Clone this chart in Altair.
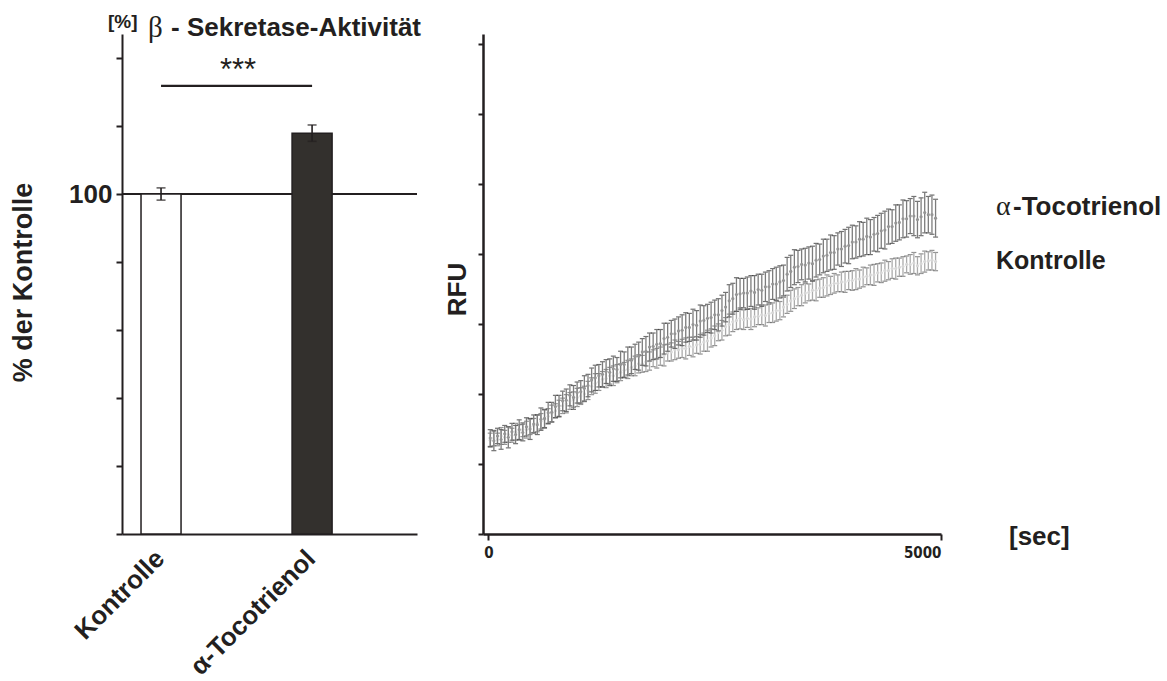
import altair as alt
import pandas as pd

SANS = "Liberation Sans"
SERIF = "Liberation Serif"
NARROW = "Liberation Sans Narrow, DejaVu Sans Condensed, Liberation Sans"
INK = "#231f20"

# ---------------- left panel: beta-secretase activity (% of control) ----------------
groups = ["Kontrolle", "α-Tocotrienol"]
activity = [100.0, 117.9]
activity_sem = [1.8, 2.4]
sig_level = 131.8
sig_label = "***"
pct_ticks = [0, 20, 40, 60, 80, 100, 120, 140]

# ---------------- right panel: fluorescence kinetics ----------------
series_names = ["α-Tocotrienol", "Kontrolle"]
time_ticks = [0, 5000]
rfu_ticks = [0, 1, 2, 3, 4, 5, 6, 7]

times = [
    20, 60, 100, 140, 180, 220, 260, 300, 340, 380,
    420, 460, 500, 540, 580, 620, 660, 700, 740, 780,
    820, 860, 900, 940, 980, 1020, 1060, 1100, 1140, 1180,
    1220, 1260, 1300, 1340, 1380, 1420, 1460, 1500, 1540, 1580,
    1620, 1660, 1700, 1740, 1780, 1820, 1860, 1900, 1940, 1980,
    2020, 2060, 2100, 2140, 2180, 2220, 2260, 2300, 2340, 2380,
    2420, 2460, 2500, 2540, 2580, 2620, 2660, 2700, 2740, 2780,
    2820, 2860, 2900, 2940, 2980, 3020, 3060, 3100, 3140, 3180,
    3220, 3260, 3300, 3340, 3380, 3420, 3460, 3500, 3540, 3580,
    3620, 3660, 3700, 3740, 3780, 3820, 3860, 3900, 3940, 3980,
    4020, 4060, 4100, 4140, 4180, 4220, 4260, 4300, 4340, 4380,
    4420, 4460, 4500, 4540, 4580, 4620, 4660, 4700, 4740, 4780,
    4820, 4860, 4900, 4940,
]

toco_rfu = [
    1.37, 1.33, 1.40, 1.35, 1.43, 1.38, 1.46, 1.42, 1.49, 1.45,
    1.53, 1.50, 1.57, 1.56, 1.64, 1.65, 1.73, 1.74, 1.82, 1.83,
    1.90, 1.91, 1.98, 1.95, 2.02, 2.03, 2.08, 2.12, 2.20, 2.23,
    2.26, 2.28, 2.32, 2.31, 2.36, 2.35, 2.42, 2.42, 2.47, 2.48,
    2.53, 2.54, 2.60, 2.61, 2.67, 2.68, 2.71, 2.72, 2.79, 2.81,
    2.86, 2.86, 2.90, 2.91, 2.95, 2.95, 2.99, 2.98, 3.04, 3.05,
    3.08, 3.09, 3.13, 3.13, 3.19, 3.24, 3.33, 3.36, 3.42, 3.43,
    3.44, 3.44, 3.47, 3.45, 3.49, 3.48, 3.53, 3.53, 3.57, 3.57,
    3.60, 3.62, 3.71, 3.75, 3.81, 3.82, 3.85, 3.84, 3.87, 3.86,
    3.91, 3.92, 3.97, 3.98, 4.02, 4.02, 4.07, 4.07, 4.11, 4.12,
    4.17, 4.17, 4.21, 4.21, 4.25, 4.24, 4.28, 4.29, 4.33, 4.34,
    4.39, 4.39, 4.44, 4.45, 4.50, 4.50, 4.54, 4.54, 4.49, 4.53,
    4.59, 4.56, 4.56, 4.51,
]

toco_err = [
    0.12, 0.14, 0.11, 0.14, 0.12, 0.15, 0.12, 0.13, 0.14, 0.12,
    0.13, 0.15, 0.13, 0.14, 0.16, 0.13, 0.15, 0.14, 0.16, 0.15,
    0.14, 0.16, 0.15, 0.17, 0.15, 0.16, 0.18, 0.16, 0.17, 0.18,
    0.16, 0.18, 0.17, 0.19, 0.18, 0.17, 0.19, 0.18, 0.20, 0.19,
    0.18, 0.20, 0.19, 0.21, 0.20, 0.19, 0.21, 0.20, 0.22, 0.20,
    0.19, 0.21, 0.20, 0.22, 0.21, 0.20, 0.22, 0.21, 0.23, 0.21,
    0.20, 0.22, 0.21, 0.23, 0.22, 0.21, 0.23, 0.22, 0.24, 0.22,
    0.21, 0.23, 0.22, 0.24, 0.22, 0.23, 0.21, 0.23, 0.22, 0.24,
    0.23, 0.22, 0.24, 0.23, 0.25, 0.23, 0.22, 0.24, 0.23, 0.25,
    0.24, 0.22, 0.24, 0.23, 0.25, 0.24, 0.23, 0.25, 0.24, 0.26,
    0.24, 0.23, 0.25, 0.24, 0.26, 0.25, 0.24, 0.26, 0.25, 0.27,
    0.25, 0.24, 0.26, 0.25, 0.27, 0.26, 0.25, 0.28, 0.26, 0.27,
    0.29, 0.26, 0.28, 0.27,
]

ctrl_rfu = [
    1.34, 1.37, 1.35, 1.40, 1.38, 1.42, 1.41, 1.46, 1.45, 1.49,
    1.49, 1.53, 1.55, 1.58, 1.61, 1.64, 1.68, 1.72, 1.76, 1.79,
    1.83, 1.86, 1.90, 1.92, 1.95, 1.97, 2.00, 2.05, 2.11, 2.15,
    2.17, 2.21, 2.22, 2.26, 2.26, 2.29, 2.31, 2.34, 2.35, 2.38,
    2.40, 2.43, 2.43, 2.46, 2.47, 2.51, 2.51, 2.54, 2.55, 2.59,
    2.60, 2.63, 2.63, 2.65, 2.65, 2.68, 2.67, 2.70, 2.71, 2.74,
    2.76, 2.80, 2.83, 2.88, 2.91, 2.96, 2.99, 3.03, 3.05, 3.08,
    3.06, 3.08, 3.07, 3.10, 3.11, 3.13, 3.12, 3.15, 3.16, 3.19,
    3.19, 3.24, 3.28, 3.33, 3.36, 3.39, 3.41, 3.44, 3.45, 3.48,
    3.48, 3.51, 3.52, 3.55, 3.55, 3.58, 3.58, 3.60, 3.60, 3.62,
    3.62, 3.64, 3.64, 3.67, 3.68, 3.70, 3.70, 3.73, 3.73, 3.76,
    3.76, 3.79, 3.79, 3.81, 3.82, 3.85, 3.85, 3.87, 3.83, 3.86,
    3.89, 3.90, 3.91, 3.89,
]

ctrl_err = [
    0.10, 0.11, 0.09, 0.12, 0.10, 0.11, 0.10, 0.12, 0.11, 0.10,
    0.12, 0.11, 0.10, 0.12, 0.11, 0.13, 0.11, 0.12, 0.10, 0.12,
    0.11, 0.13, 0.12, 0.11, 0.13, 0.12, 0.11, 0.13, 0.12, 0.14,
    0.12, 0.11, 0.13, 0.12, 0.14, 0.13, 0.12, 0.11, 0.13, 0.12,
    0.14, 0.13, 0.12, 0.14, 0.13, 0.12, 0.14, 0.13, 0.15, 0.12,
    0.13, 0.14, 0.12, 0.13, 0.15, 0.13, 0.14, 0.12, 0.14, 0.13,
    0.15, 0.13, 0.14, 0.12, 0.14, 0.13, 0.15, 0.14, 0.13, 0.15,
    0.14, 0.13, 0.15, 0.14, 0.12, 0.14, 0.15, 0.13, 0.14, 0.15,
    0.13, 0.14, 0.13, 0.15, 0.14, 0.13, 0.15, 0.14, 0.12, 0.14,
    0.15, 0.13, 0.14, 0.15, 0.13, 0.14, 0.12, 0.14, 0.15, 0.13,
    0.14, 0.15, 0.13, 0.14, 0.12, 0.14, 0.15, 0.13, 0.14, 0.15,
    0.13, 0.14, 0.15, 0.13, 0.14, 0.12, 0.14, 0.15, 0.13, 0.14,
    0.15, 0.13, 0.14, 0.13,
]

assert len(times) == len(toco_rfu) == len(toco_err) == len(ctrl_rfu) == len(ctrl_err)

LEFT_W, LEFT_H = 295, 500
RIGHT_W, RIGHT_H = 458, 500

# ======================= left panel =======================
bar_df = pd.DataFrame({
    "group": groups,
    "value": activity,
    "lo": [v - e for v, e in zip(activity, activity_sem)],
    "hi": [v + e for v, e in zip(activity, activity_sem)],
})
sig_df = pd.DataFrame({"a": [groups[0]], "b": [groups[1]], "v": [sig_level], "s": [sig_label]})
ref_df = pd.DataFrame({"v": [100.0]})

grp_scale = alt.Scale(domain=groups, paddingInner=0.735, paddingOuter=0.344, align=0.183)
pct_scale = alt.Scale(domain=[0, 147.06], nice=False, zero=True)

grp_axis = alt.Axis(
    title=None, labelAngle=-45, labelFont=SANS, labelFontSize=26, labelFontWeight="bold",
    labelColor=INK, labelPadding=11, labelOffset=-10, ticks=False, domainWidth=2, domainColor=INK,
)
pct_axis = alt.Axis(
    values=pct_ticks, labelExpr="datum.value == 100 ? '100' : ''",
    labelFont=SANS, labelFontSize=26, labelFontWeight="bold", labelColor=INK, labelPadding=4,
    tickSize=6, tickWidth=2, tickColor=INK, domainWidth=2, domainColor=INK, grid=False,
    title="% der Kontrolle", titleFont=SANS, titleFontSize=27, titleFontWeight="bold",
    titleColor=INK, titleX=-99, titleY=LEFT_H / 2 - 2, titleBaseline="middle", titleAngle=-90,
)

bars = alt.Chart(bar_df).mark_bar(stroke=INK, strokeWidth=1.5).encode(
    x=alt.X("group:N", scale=grp_scale, axis=grp_axis),
    y=alt.Y("value:Q", scale=pct_scale, axis=pct_axis),
    fill=alt.Fill("group:N", scale=alt.Scale(domain=groups, range=["#ffffff", "#33302d"]), legend=None),
)

bar_err = alt.Chart(bar_df).mark_errorbar(
    ticks={"size": 9, "color": INK, "thickness": 1.6}, rule={"color": INK, "strokeWidth": 1.6},
).encode(
    x=alt.X("group:N", scale=grp_scale, axis=grp_axis),
    y=alt.Y("lo:Q", scale=pct_scale, axis=pct_axis),
    y2="hi:Q",
)

ref_line = alt.Chart(ref_df).mark_rule(color=INK, strokeWidth=1.8).encode(
    y=alt.Y("v:Q", scale=pct_scale, axis=pct_axis),
    x=alt.value(0), x2=alt.value(LEFT_W),
)

sig_line = alt.Chart(sig_df).mark_rule(color=INK, strokeWidth=2.2).encode(
    x=alt.X("a:N", scale=grp_scale, axis=grp_axis, bandPosition=0.5),
    x2=alt.X2("b:N", bandPosition=0.5),
    y=alt.Y("v:Q", scale=pct_scale, axis=pct_axis),
)

sig_text = alt.Chart(sig_df).mark_text(
    font=SANS, fontSize=31, color=INK, baseline="alphabetic", align="center", dy=-6,
).encode(
    x=alt.value(116),
    y=alt.Y("v:Q", scale=pct_scale, axis=pct_axis),
    text="s:N",
)

title_unit = alt.Chart(pd.DataFrame({"s": ["[%]"]})).mark_text(
    font=SANS, fontSize=19, fontWeight="bold", color=INK, align="left", baseline="alphabetic",
).encode(x=alt.value(-14), y=alt.value(-6), text="s:N")
title_beta = alt.Chart(pd.DataFrame({"s": ["β"]})).mark_text(
    font=SERIF, fontSize=29, color=INK, align="left", baseline="alphabetic",
).encode(x=alt.value(26), y=alt.value(3), text="s:N")
title_main = alt.Chart(pd.DataFrame({"s": ["- Sekretase-Aktivität"]})).mark_text(
    font=SANS, fontSize=26, fontWeight="bold", color=INK, align="left", baseline="alphabetic",
).encode(x=alt.value(49), y=alt.value(2), text="s:N")

left = alt.layer(
    ref_line, bars, bar_err, sig_line, sig_text, title_unit, title_beta, title_main
).properties(width=LEFT_W, height=LEFT_H)

# ======================= right panel =======================
kin_df = pd.concat([
    pd.DataFrame({"series": series_names[0], "t": times, "v": toco_rfu,
                  "lo": [v - e for v, e in zip(toco_rfu, toco_err)],
                  "hi": [v + e for v, e in zip(toco_rfu, toco_err)]}),
    pd.DataFrame({"series": series_names[1], "t": times, "v": ctrl_rfu,
                  "lo": [v - e for v, e in zip(ctrl_rfu, ctrl_err)],
                  "hi": [v + e for v, e in zip(ctrl_rfu, ctrl_err)]}),
], ignore_index=True)

t_scale = alt.Scale(domain=[-60, 5000], nice=False, zero=False)
rfu_scale = alt.Scale(domain=[0, 7.14], nice=False, zero=True)

t_axis = alt.Axis(
    values=time_ticks, format="d", title=None, labelFont=NARROW, labelFontSize=15,
    labelFontWeight="bold", labelColor=INK, labelPadding=5, tickSize=6, tickWidth=2,
    tickColor=INK, domainWidth=2.5, domainColor=INK, grid=False,
)
rfu_axis = alt.Axis(
    values=rfu_ticks, labels=False, tickSize=5, tickWidth=2, tickColor=INK,
    domainWidth=2.5, domainColor=INK, grid=False,
    title="RFU", titleFont=SANS, titleFontSize=26, titleFontWeight="bold", titleColor=INK,
    titleX=-26, titleY=255, titleBaseline="middle", titleAngle=-90,
)

enc_x = alt.X("t:Q", scale=t_scale, axis=t_axis)


def series_layers(name, stem_color, cap_color, dot_color):
    src = alt.Chart(kin_df).transform_filter(alt.datum.series == name)
    err = src.mark_errorbar(
        ticks={"size": 5, "color": cap_color, "thickness": 1.2},
        rule={"color": stem_color, "strokeWidth": 1.3},
    ).encode(x=enc_x, y=alt.Y("lo:Q", scale=rfu_scale, axis=rfu_axis), y2="hi:Q")
    dots = src.mark_point(filled=True, size=10, color=dot_color, opacity=1).encode(
        x=enc_x, y=alt.Y("v:Q", scale=rfu_scale, axis=rfu_axis)
    )
    return [err, dots]


ctrl_layers = series_layers(series_names[1], "#ababab", "#626262", "#d6d6d6")
toco_layers = series_layers(series_names[0], "#7c7c7c", "#353535", "#959595")

lab_alpha = alt.Chart(pd.DataFrame({"s": ["α"]})).mark_text(
    font=SERIF, fontSize=28, color=INK, align="left", baseline="alphabetic",
).encode(x=alt.value(513), y=alt.value(181), text="s:N")
lab_toco = alt.Chart(pd.DataFrame({"s": [series_names[0][1:]]})).mark_text(
    font=SANS, fontSize=26, fontWeight="bold", color=INK, align="left", baseline="alphabetic",
).encode(x=alt.value(530), y=alt.value(181), text="s:N")
lab_ctrl = alt.Chart(pd.DataFrame({"s": [series_names[1]]})).mark_text(
    font=SANS, fontSize=25, fontWeight="bold", color=INK, align="left", baseline="alphabetic",
).encode(x=alt.value(513), y=alt.value(235), text="s:N")
lab_sec = alt.Chart(pd.DataFrame({"s": ["[sec]"]})).mark_text(
    font=SANS, fontSize=26, fontWeight="bold", color=INK, align="left", baseline="alphabetic",
).encode(x=alt.value(526), y=alt.value(511), text="s:N")

right = alt.layer(
    *ctrl_layers, *toco_layers, lab_alpha, lab_toco, lab_ctrl, lab_sec
).properties(width=RIGHT_W, height=RIGHT_H)

chart = alt.hconcat(left, right, spacing=66, bounds="flush").properties(
    padding={"left": 9, "top": 13, "right": 0, "bottom": 0},
    background="white",
).configure_view(stroke=None)

chart.save("out.html", embed_options={"renderer": "svg", "actions": False})
